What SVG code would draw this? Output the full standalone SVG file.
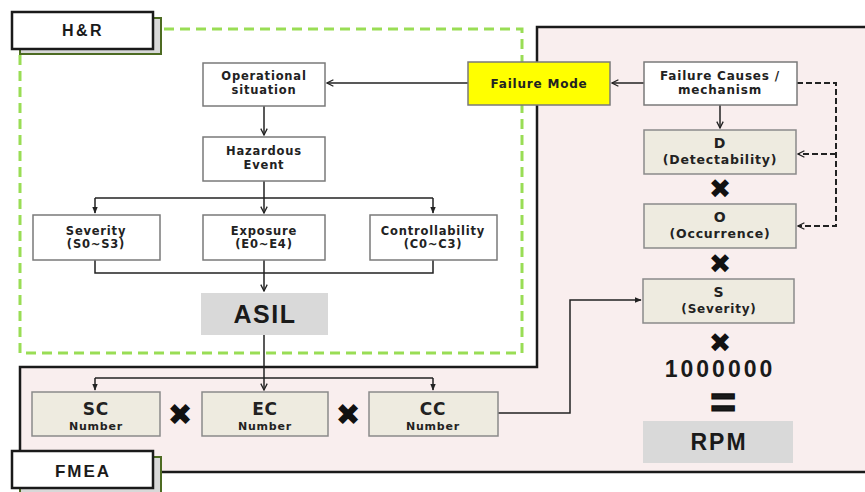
<svg xmlns="http://www.w3.org/2000/svg" width="865" height="492" viewBox="0 0 865 492">
  <defs>
    <marker id="arr" viewBox="0 0 10 10" refX="9" refY="5" markerWidth="8" markerHeight="8" markerUnits="userSpaceOnUse" orient="auto">
      <path d="M1,1 L9,5 L1,9" fill="none" stroke="#222" stroke-width="1.6"/>
    </marker>
    <marker id="tri" viewBox="0 0 10 10" refX="9" refY="5" markerWidth="7" markerHeight="7" markerUnits="userSpaceOnUse" orient="auto">
      <path d="M0,1 L10,5 L0,9 Z" fill="#222"/>
    </marker>
    <style>
      .box { fill: #ffffff; stroke: #7a7a7a; stroke-width: 1.5; }
      .beige { fill: #eeebe0; stroke: #8a8a8a; stroke-width: 1.5; }
      .gray { fill: #d9d9d9; }
      .t { font-family: "DejaVu Sans", sans-serif; font-weight: bold; fill: #222; text-anchor: middle; letter-spacing: 0.8px; }
      .big { font-family: "Liberation Sans", Arial, sans-serif; font-weight: bold; fill: #1a1a1a; text-anchor: middle; }
      .op { font-family: "DejaVu Sans", sans-serif; fill: #111; text-anchor: middle; }
      .ln { fill: none; stroke: #222; stroke-width: 1.5; }
      .dash { fill: none; stroke: #222; stroke-width: 2; stroke-dasharray: 6 3; }
      .tab { fill: #ffffff; stroke: #1a1a1a; stroke-width: 2.5; }
      .tabsh { fill: #d8d8d8; stroke: #4d6b22; stroke-width: 2; }
    </style>
  </defs>

  <!-- FMEA area -->
  <path d="M537,27 H870 V472 H20 V367 H537 Z" fill="#f9eeee" stroke="#1a1a1a" stroke-width="2.5"/>
  <!-- H&R area -->
  <rect x="20" y="29" width="502" height="324" fill="none" stroke="#99dd55" stroke-width="3" stroke-dasharray="10 6"/>

  <!-- tabs -->
  <g id="tab-hr">
    <rect class="tabsh" x="20" y="18" width="141" height="36"/>
    <rect class="tab" x="12" y="12" width="141" height="37"/>
    <text class="big" x="83" y="36" font-size="16" letter-spacing="2.5">H&amp;R</text>
  </g>
  <g id="tab-fmea">
    <rect class="tabsh" x="20" y="457" width="141" height="36"/>
    <rect class="tab" x="12" y="451" width="141" height="37"/>
    <text class="big" x="83" y="477" font-size="17" letter-spacing="2">FMEA</text>
  </g>

  <!-- connectors -->
  <g id="connectors">
    <path class="ln" d="M264,106 V135" marker-end="url(#arr)"/>
    <path class="ln" d="M264,181 V213" marker-end="url(#arr)"/>
    <path class="ln" d="M95,198 H433"/>
    <path class="ln" d="M95,198 V213" marker-end="url(#tri)"/>
    <path class="ln" d="M433,198 V213" marker-end="url(#tri)"/>
    <path class="ln" d="M95,260 V273 H433 V260 M264,260 V273"/>
    <path class="ln" d="M264,273 V291" marker-end="url(#arr)"/>
    <path class="ln" d="M264,335 V390" marker-end="url(#arr)"/>
    <path class="ln" d="M95,378 H433"/>
    <path class="ln" d="M95,378 V390" marker-end="url(#tri)"/>
    <path class="ln" d="M433,378 V390" marker-end="url(#tri)"/>
    <path class="ln" d="M498,413 H570 V300 H641" marker-end="url(#tri)"/>
    <path class="ln" d="M644,83 H612" marker-end="url(#arr)"/>
    <path class="ln" d="M468,83 H327" marker-end="url(#arr)"/>
    <path class="ln" d="M720,105 V128" marker-end="url(#arr)"/>
    <path class="dash" d="M797,83 H836 V226 H798" marker-end="url(#arr)"/>
    <path class="dash" d="M836,154 H798" marker-end="url(#arr)"/>
  </g>

  <!-- H&R nodes -->
  <g id="operational-situation">
    <rect class="box" x="203" y="63" width="122" height="43"/>
    <text class="t" x="264" y="80" font-size="11.5">Operational</text>
    <text class="t" x="264" y="93.5" font-size="11.5">situation</text>
  </g>
  <g id="hazardous-event">
    <rect class="box" x="203" y="137" width="122" height="44"/>
    <text class="t" x="264" y="155" font-size="11.5">Hazardous</text>
    <text class="t" x="264" y="168.5" font-size="11.5">Event</text>
  </g>
  <g id="severity">
    <rect class="box" x="33" y="215" width="127" height="45"/>
    <text class="t" x="96" y="234.5" font-size="11.5">Severity</text>
    <text class="t" x="96" y="248" font-size="11.5">(S0~S3)</text>
  </g>
  <g id="exposure">
    <rect class="box" x="203" y="215" width="122" height="45"/>
    <text class="t" x="264" y="234.5" font-size="11.5">Exposure</text>
    <text class="t" x="264" y="248" font-size="11.5">(E0~E4)</text>
  </g>
  <g id="controllability">
    <rect class="box" x="370" y="215" width="127" height="45"/>
    <text class="t" x="433" y="234.5" font-size="11.5">Controllability</text>
    <text class="t" x="433" y="248" font-size="11.5">(C0~C3)</text>
  </g>
  <g id="asil">
    <rect class="gray" x="201" y="293" width="127" height="42"/>
    <text class="big" x="265" y="323" font-size="25" letter-spacing="1.5">ASIL</text>
  </g>

  <!-- FMEA nodes -->
  <g id="failure-mode">
    <rect x="468" y="62" width="142" height="43" fill="#ffff00" stroke="#7a7a7a" stroke-width="1.5"/>
    <text class="t" x="539" y="88" font-size="12">Failure Mode</text>
  </g>
  <g id="failure-causes">
    <rect class="box" x="644" y="62" width="153" height="43"/>
    <text class="t" x="720" y="79.5" font-size="12">Failure Causes /</text>
    <text class="t" x="720" y="93.5" font-size="12">mechanism</text>
  </g>
  <g id="detectability">
    <rect class="beige" x="644" y="130" width="152" height="44"/>
    <text class="t" x="720" y="148" font-size="14">D</text>
    <text class="t" x="720" y="164" font-size="12.5" letter-spacing="1.2">(Detectability)</text>
  </g>
  <g id="occurrence">
    <rect class="beige" x="644" y="204" width="152" height="44"/>
    <text class="t" x="720" y="222" font-size="14">O</text>
    <text class="t" x="720" y="238" font-size="12.5" letter-spacing="1.2">(Occurrence)</text>
  </g>
  <g id="severity-s">
    <rect class="beige" x="643" y="279" width="151" height="44"/>
    <text class="t" x="719" y="297" font-size="14">S</text>
    <text class="t" x="719" y="312.5" font-size="12" letter-spacing="0.6">(Severity)</text>
  </g>
  <g id="sc-number">
    <rect class="beige" x="32" y="392" width="128" height="44"/>
    <text class="t" x="96" y="415" font-size="17" letter-spacing="1.5">SC</text>
    <text class="t" x="96" y="430" font-size="11">Number</text>
  </g>
  <g id="ec-number">
    <rect class="beige" x="202" y="392" width="126" height="44"/>
    <text class="t" x="265" y="415" font-size="17" letter-spacing="1.5">EC</text>
    <text class="t" x="265" y="430" font-size="11">Number</text>
  </g>
  <g id="cc-number">
    <rect class="beige" x="369" y="392" width="129" height="44"/>
    <text class="t" x="433" y="415" font-size="17" letter-spacing="1.5">CC</text>
    <text class="t" x="433" y="430" font-size="11">Number</text>
  </g>
  <g id="rpm">
    <rect class="gray" x="643" y="421" width="150" height="42"/>
    <text class="big" x="719" y="450" font-size="23" letter-spacing="2">RPM</text>
  </g>

  <!-- operators -->
  <g id="operators">
    <text class="op" x="180" y="425" font-size="30">✖</text>
    <text class="op" x="348" y="425" font-size="30">✖</text>
    <text class="op" x="720" y="198" font-size="27">✖</text>
    <text class="op" x="720" y="273" font-size="27">✖</text>
    <text class="op" x="720" y="352" font-size="27">✖</text>
    <text class="big" x="720" y="377" font-size="23" letter-spacing="3">1000000</text>
    <text class="big" x="723" y="418" font-size="44" stroke="#111" stroke-width="1.5">=</text>
  </g>
</svg>
